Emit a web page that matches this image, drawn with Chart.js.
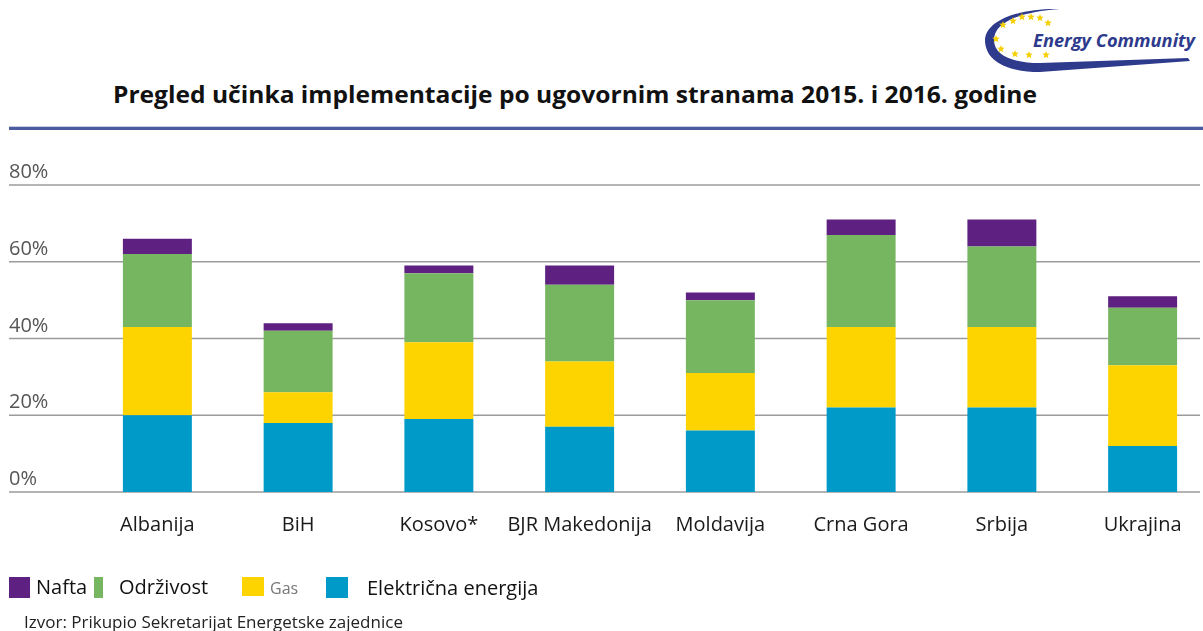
<!DOCTYPE html>
<html>
<head>
<meta charset="utf-8">
<script src="https://cdn.jsdelivr.net/npm/chart.js@4/dist/chart.umd.min.js"></script>
<style>
  html, body { margin: 0; padding: 0; background: #fff; overflow: hidden; width: 1203px; height: 631px; }
  #wrap { position: relative; width: 1203px; height: 631px; font-family: "Open Sans", sans-serif; }
  #chart { position: absolute; left: 0; top: 0; }
  .abs { position: absolute; white-space: nowrap; }
  .sq { position: absolute; height: 21px; }
</style>
</head>
<body>
<div id="wrap">
  <svg class="abs" style="left:960px;top:0" width="243" height="80">
    <path d="M100,9 C60,8 26,20 25,40 C25,60 45,72 80,72 L230,61 L228,58 L80,63 C52,63 34,55 34,40 C34,22 60,12 100,9 Z" fill="#2e3a8c"/>
    <g id="stars" fill="#f5cf00"></g>
    <text x="73" y="47" font-family="Open Sans" font-weight="bold" font-style="italic" font-size="17" fill="#2e3a8c" textLength="162" lengthAdjust="spacingAndGlyphs">Energy Community</text>
  </svg>

  <svg class="abs" style="left:0;top:80px" width="1203" height="40">
    <text x="113" y="23" font-family="Open Sans" font-weight="bold" font-size="23.5" fill="#111" textLength="924" lengthAdjust="spacingAndGlyphs">Pregled učinka implementacije po ugovornim stranama 2015. i 2016. godine</text>
  </svg>
  <div class="abs" style="left:9px;top:126px;width:1194px;height:1px;background:#c9cee2"></div>
  <div class="abs" style="left:9px;top:127px;width:1194px;height:3px;background:#4b5b9e"></div>

  <canvas id="chart" width="1216" height="631"></canvas>

  <div class="sq" style="left:9px;top:577px;width:21px;background:#5f2181"></div>
  <div class="abs" style="left:36px;top:573px;font-size:20px;color:#111">Nafta</div>
  <div class="sq" style="left:94px;top:577px;width:9px;background:#77b661"></div>
  <div class="abs" style="left:119px;top:573px;font-size:20px;color:#111">Održivost</div>
  <div class="sq" style="left:242px;top:577px;width:22px;height:19px;background:#fdd300"></div>
  <div class="abs" style="left:270px;top:577px;font-size:16px;color:#777">Gas</div>
  <div class="sq" style="left:326px;top:577px;width:22px;background:#009ac8"></div>
  <div class="abs" style="left:367px;top:574px;font-size:20px;color:#111">Električna energija</div>
  <div class="abs" style="left:24px;top:610px;font-size:17px;color:#222">Izvor: Prikupio Sekretarijat Energetske zajednice</div>
</div>

<script>
const categories = ["Albanija", "BiH", "Kosovo*", "BJR Makedonija", "Moldavija", "Crna Gora", "Srbija", "Ukrajina"];
const elektricna = [20, 18, 19, 17, 16, 22, 22, 12];
const gas = [23, 8, 20, 17, 15, 21, 21, 21];
const odrzivost = [19, 16, 18, 20, 19, 24, 21, 15];
const nafta = [4, 2, 2, 5, 2, 4, 7, 3];
const yTicks = [0, 20, 40, 60, 80];

// stars round the logo swoosh
const starPos = [[43,25],[53,21],[62,17],[71,17],[80,18],[88,23],[36,39],[41,49],[55,54],[69,55],[86,55]];
const starG = document.getElementById("stars");
starPos.forEach(([cx, cy]) => {
    let pts = [];
    for (let i = 0; i < 10; i++) {
        const r = i % 2 ? 1.7 : 4;
        const a = -Math.PI / 2 + i * Math.PI / 5;
        pts.push((cx + r * Math.cos(a)).toFixed(2) + "," + (cy + r * Math.sin(a)).toFixed(2));
    }
    const p = document.createElementNS("http://www.w3.org/2000/svg", "polygon");
    p.setAttribute("points", pts.join(" "));
    starG.appendChild(p);
});

// grid lines and % labels run across the whole page width
const pctGrid = {
    id: "pctGrid",
    beforeDatasetsDraw(chart) {
        const { ctx, scales: { y } } = chart;
        ctx.save();
        ctx.strokeStyle = "#9b9b9b";
        ctx.lineWidth = 1.5;
        ctx.fillStyle = "#555";
        ctx.font = '20px "Open Sans"';
        ctx.textAlign = "left";
        ctx.textBaseline = "alphabetic";
        yTicks.forEach(v => {
            const py = y.getPixelForValue(v);
            ctx.beginPath();
            ctx.moveTo(9, py);
            ctx.lineTo(1200, py);
            ctx.stroke();
            ctx.fillText(v + "%", 9, py - 7);
        });
        ctx.restore();
    }
};

new Chart(document.getElementById("chart"), {
    type: "bar",
    data: {
        labels: categories,
        datasets: [
            { label: "Električna energija", data: elektricna, backgroundColor: "#009ac8" },
            { label: "Gas", data: gas, backgroundColor: "#fdd300" },
            { label: "Održivost", data: odrzivost, backgroundColor: "#77b661" },
            { label: "Nafta", data: nafta, backgroundColor: "#5f2181" }
        ]
    },
    options: {
        responsive: false,
        animation: false,
        layout: { padding: { left: 87, right: 3, top: 185, bottom: 73 } },
        datasets: { bar: { categoryPercentage: 1, barPercentage: 0.49, borderWidth: 0 } },
        plugins: { legend: { display: false }, tooltip: { enabled: false } },
        scales: {
            x: {
                stacked: true,
                grid: { display: false, drawTicks: false },
                border: { display: false },
                ticks: { color: "#1a1a1a", font: { family: "Open Sans", size: 20 }, padding: 21, maxRotation: 0, autoSkip: false }
            },
            y: {
                stacked: true,
                display: false,
                min: 0,
                max: 80
            }
        }
    },
    plugins: [pctGrid]
});
</script>
</body>
</html>
